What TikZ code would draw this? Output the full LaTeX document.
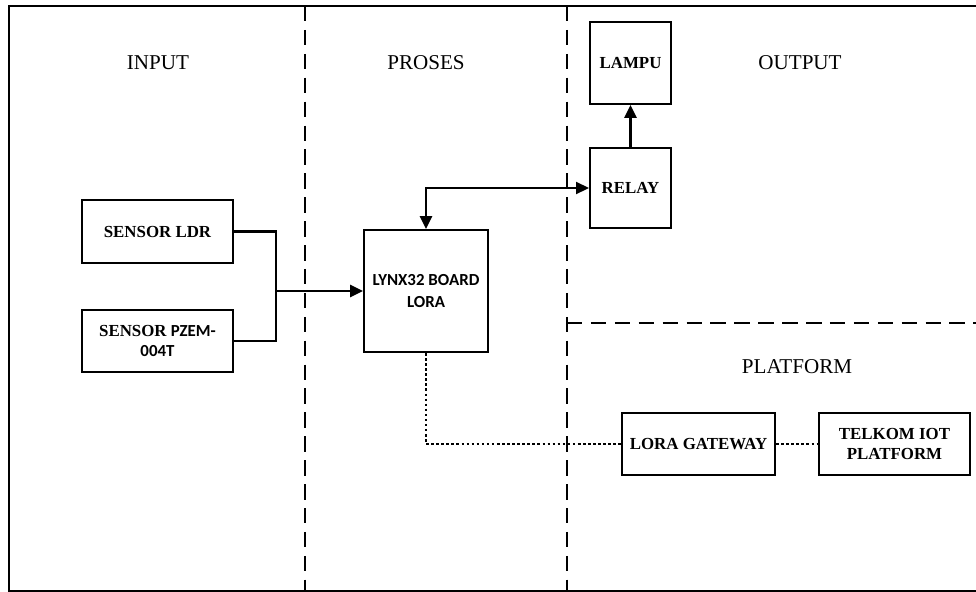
\documentclass[tikz,border=0pt]{standalone}
\usepackage{fontspec}
\setmainfont{Liberation Serif}
\newfontfamily\calfont{Carlito}
\usetikzlibrary{arrows.meta,positioning}
\tikzset{
  % plain white block with a heavy black outline
  blk/.style   = {rectangle, draw=black, line width=1.4pt, fill=white, align=center,
                  inner sep=2pt, font=\fontsize{12}{14}\selectfont\bfseries},
  sect/.style  = {font=\fontsize{15}{17}\selectfont},
  part/.style  = {line width=1.4pt, dash pattern=on 11pt off 6pt},
  wire/.style  = {line width=1.5pt},
  lane/.style  = {-{Triangle[length=3.2mm,width=3mm]}, line width=1.5pt},
  both/.style  = {{Triangle[length=3.2mm,width=3mm]}-{Triangle[length=3.2mm,width=3mm]}, line width=1.5pt},
  radio/.style = {line width=1.3pt, dash pattern=on 1.8pt off 1.8pt},
}

\begin{document}
\begin{tikzpicture}[x=0.025cm,y=-0.025cm]
\useasboundingbox (0,0) rectangle (976,592);
% frame and section borders
\draw[wire] (976,6) -- (9,6) -- (9,591) -- (976,591);
\draw[part] (305,6) -- (305,591);
\draw[part] (567,6) -- (567,591);
\draw[part] (567,323) -- (976,323);
\node[sect] (tin)  at (158,63)  {INPUT};
\node[sect] (tpro) at (426,63)  {PROSES};
\node[sect] (tout) at (800,63)  {OUTPUT};
\node[sect] (tplt) at (797,367) {PLATFORM};
% blocks
\node[blk, minimum width=3.78cm, minimum height=1.58cm] (ldr)   at (157.5,231.5) {SENSOR LDR};
\node[blk, minimum width=3.78cm, minimum height=1.55cm] (pzem)  at (157.5,341)   {SENSOR {\calfont PZEM-}\\{\calfont 004T}};
\node[blk, minimum width=3.10cm, minimum height=3.05cm, font=\fontsize{12}{15}\selectfont\bfseries\calfont] (lynx) at (426,291) {LYNX32 BOARD\\LORA};
\node[blk, minimum width=2.03cm, minimum height=2.00cm] (relay) at (630.5,188) {RELAY};
\node[blk, minimum width=2.03cm, minimum height=2.05cm] (lampu) at (630.5,63)  {LAMPU};
\node[blk, minimum width=3.83cm, minimum height=1.55cm] (gw)    at (698.5,444) {LORA GATEWAY};
\node[blk, minimum width=3.78cm, minimum height=1.55cm] (tel)   at (894.5,444) {TELKOM IOT\\PLATFORM};
% connections
\coordinate (jn) at (276,291);
\draw[wire] (ldr.east) -| (jn) |- (pzem.east);
\draw[lane] (jn) -- (lynx);
\draw[both] (lynx.north) |- (relay.west);
\draw[lane] (relay) -- (lampu);
\draw[radio] (lynx.south) |- (gw.west);
\draw[radio] (gw) -- (tel);
\end{tikzpicture}
\end{document}
